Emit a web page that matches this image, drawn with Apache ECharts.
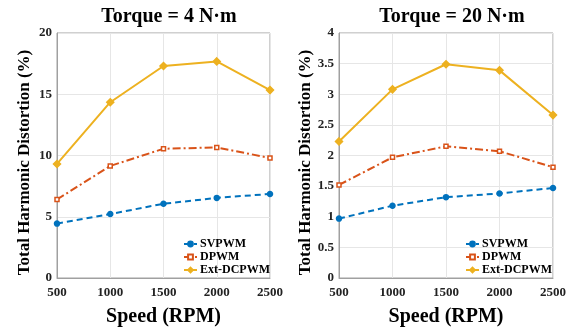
<!DOCTYPE html>
<html><head><meta charset="utf-8">
<script src="https://cdn.jsdelivr.net/npm/echarts@6/dist/echarts.min.js"></script>
<style>html,body{margin:0;padding:0;background:#fff}#c{width:579px;height:332px}</style>
</head><body><div id="c"></div>
<script>
const speeds = [500, 1000, 1500, 2000, 2500];
const titles = ['Torque = 4 N\u00b7m', 'Torque = 20 N\u00b7m'];
const seriesNames = ['SVPWM', 'DPWM', 'Ext-DCPWM'];
// Torque = 4 N·m
const sv4 = [4.44, 5.22, 6.06, 6.54, 6.86];
const dp4 = [6.41, 9.15, 10.55, 10.66, 9.8];
const ext4 = [9.31, 14.35, 17.31, 17.68, 15.34];
// Torque = 20 N·m
const sv20 = [0.97, 1.18, 1.32, 1.38, 1.47];
const dp20 = [1.52, 1.97, 2.15, 2.07, 1.81];
const ext20 = [2.23, 3.08, 3.49, 3.39, 2.66];
const yTicks4 = {min: 0, max: 20, interval: 5};
const yTicks20 = {min: 0, max: 4, interval: 0.5};

const colors = ['#0072BD', '#D95319', '#EDB120'];
const dashes = [[6, 4], [8, 3, 2, 3], 'solid'];
const symbols = ['circle', 'rect', 'diamond'];
const font = 'Liberation Serif, Times New Roman, serif';

const chart = echarts.init(document.getElementById('c'));
const grids = [
  {left: 57, right: 309, top: 33, bottom: 51},
  {left: 339, right: 26, top: 33, bottom: 51}
];
const data = [[sv4, dp4, ext4], [sv20, dp20, ext20]];
const yT = [yTicks4, yTicks20];

const option = {
  animation: false,
  title: titles.map((t, i) => ({
    text: t, left: i === 0 ? 164 : 447, top: 2, textAlign: 'center',
    textStyle: {fontFamily: font, fontWeight: 'bold', fontSize: 20, color: '#000'}
  })),
  grid: grids.map(g => Object.assign({show: true, borderColor: '#a0a0a0', borderWidth: 1}, g)),
  legend: [0, 1].map(i => ({
    data: seriesNames.map((n) => n + (i ? ' ' : '')),
    formatter: n => n.trim(),
    orient: 'vertical',
    left: i === 0 ? 178 : 460, top: 233,
    itemWidth: 13, itemHeight: 6, itemGap: 1,
    textStyle: {fontFamily: font, fontWeight: 'bold', fontSize: 12, color: '#000', padding: [0, 0, 0, -2]}
  })),
  xAxis: [0, 1].map(i => ({
    gridIndex: i, type: 'value', min: 500, max: 2500, interval: 500,
    name: 'Speed (RPM)', nameLocation: 'middle', nameGap: 29,
    nameTextStyle: {fontFamily: font, fontWeight: 'bold', fontSize: 20, color: '#000'},
    axisLine: {lineStyle: {color: '#a0a0a0'}},
    axisTick: {show: false},
    axisLabel: {fontFamily: font, fontWeight: 'bold', fontSize: 13, color: '#222', margin: 8,
      formatter: v => String(v)},
    splitLine: {lineStyle: {color: '#e6e6e6'}}
  })),
  yAxis: [0, 1].map(i => ({
    gridIndex: i, type: 'value', min: yT[i].min, max: yT[i].max, interval: yT[i].interval,
    name: 'Total Harmonic Distortion (%)', nameLocation: 'middle', nameGap: i === 0 ? 24 : 22,
    nameTextStyle: {fontFamily: font, fontWeight: 'bold', fontSize: 17, color: '#000', padding: [0, 14, 0, 0]},
    axisLine: {show: true, lineStyle: {color: '#a0a0a0'}},
    axisTick: {show: false},
    axisLabel: {fontFamily: font, fontWeight: 'bold', fontSize: 13, color: '#222', margin: 5},
    splitLine: {lineStyle: {color: '#e6e6e6'}}
  })),
  series: []
};
[0, 1].forEach(i => {
  seriesNames.forEach((n, k) => {
    option.series.push({
      name: n + (i ? ' ' : ''), type: 'line', xAxisIndex: i, yAxisIndex: i,
      data: speeds.map((s, j) => [s, data[i][k][j]]),
      symbol: symbols[k], symbolSize: k === 2 ? 7 : (k === 1 ? 4 : 5),
      showAllSymbol: true,
      itemStyle: {color: k === 1 ? '#fff' : colors[k], borderColor: colors[k], borderWidth: 1.5},
      lineStyle: {color: colors[k], width: 2, type: dashes[k]},
      color: colors[k]
    });
  });
});
chart.setOption(option);
</script></body></html>
